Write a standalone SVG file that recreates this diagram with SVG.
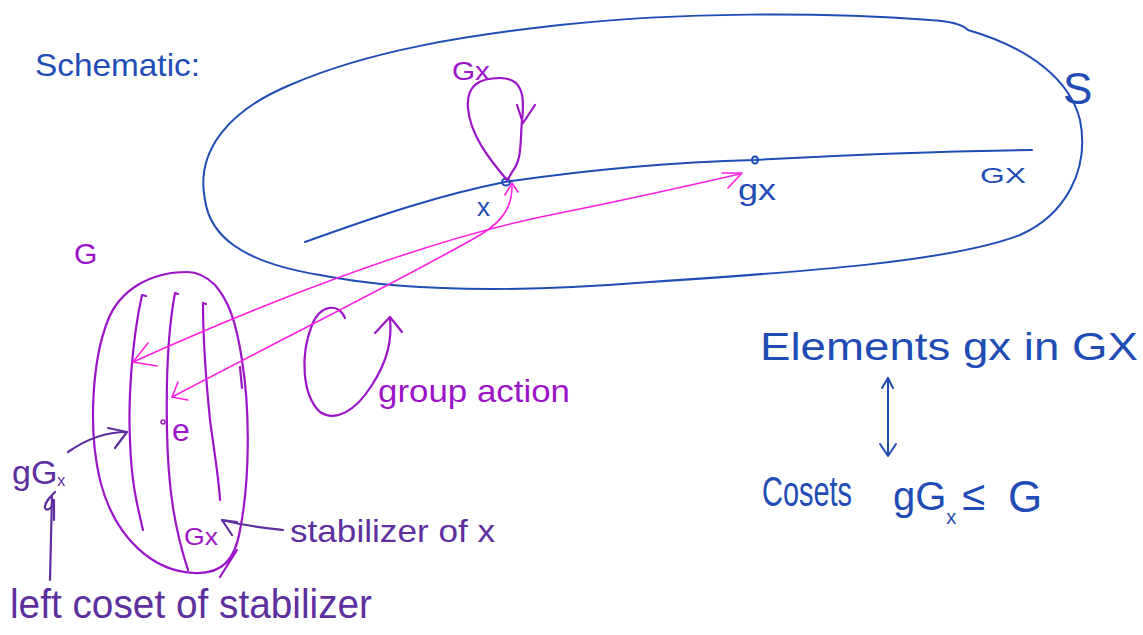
<svg xmlns="http://www.w3.org/2000/svg" width="1143" height="635" viewBox="0 0 1143 635">
<style>
.b{fill:none;stroke:#1f4db5;stroke-width:2;stroke-linecap:round;stroke-linejoin:round}
.p{fill:none;stroke:#9c14c8;stroke-width:2.2;stroke-linecap:round;stroke-linejoin:round}
.m{fill:none;stroke:#ff1fe0;stroke-width:1.6;stroke-linecap:round;stroke-linejoin:round}
.d{fill:none;stroke:#5e2f9e;stroke-width:2.2;stroke-linecap:round;stroke-linejoin:round}
text{font-family:"Liberation Sans","DejaVu Sans",sans-serif}
.tb{fill:#1f4db5}
.tp{fill:#9c14c8}
.td{fill:#5e2f9e}
</style>
<rect width="1143" height="635" fill="#ffffff"/>
<text class="tb" x="35" y="76" font-size="32" textLength="165" lengthAdjust="spacingAndGlyphs">Schematic:</text>
<g id="setS">
<path class="b" d="M205,200 C195,150 230,110 290,85 C370,50 470,35 560,25 C680,12 820,12 930,20 C950,21 962,24 968,30 C1030,48 1070,80 1080,120 C1090,170 1065,215 1020,235 C950,262 800,272 650,282 C550,290 420,295 320,275 C240,262 210,235 205,200 Z"/>
<text class="tb" x="1063" y="104" font-size="44">S</text>
</g>
<g id="orbit">
<path class="b" d="M305,242 C380,215 440,195 505,182 C600,168 680,162 755,160 C880,153 960,151 1032,150"/>
<text class="tb" x="980" y="183" font-size="22" textLength="46" lengthAdjust="spacingAndGlyphs">GX</text>
</g>
<g id="pointx">
<ellipse class="b" cx="506" cy="182" rx="4" ry="3.5" stroke-width="2.5"/>
<text class="tb" x="477" y="216" font-size="26">x</text>
</g>
<g id="pointgx">
<ellipse class="b" cx="755" cy="160" rx="3" ry="3.5" stroke-width="2.5"/>
<text class="tb" x="738" y="200" font-size="30" textLength="38" lengthAdjust="spacingAndGlyphs">gx</text>
</g>
<g id="stabloop">
<path class="p" d="M507,180 C490,160 470,135 468,108 C466,85 480,78 500,78 C522,78 525,95 522,120 C520,145 522,160 512,172 C510,176 509,178 507,180"/>
<path class="p" d="M517,105 L523,123 L535,105"/>
<text class="tp" x="452" y="80" font-size="26" textLength="38" lengthAdjust="spacingAndGlyphs">Gx</text>
</g>
<g id="groupG">
<text class="tp" x="74" y="264" font-size="30">G</text>
<path class="p" d="M187,272 C150,272 120,290 108,320 C92,360 88,430 100,480 C115,540 155,572 195,573 C222,574 235,560 240,530 C250,480 250,410 242,360 C236,320 228,300 215,285 C205,275 195,272 187,272 Z"/>
<path class="p" d="M237,550 L220,577"/>
<path class="p" d="M146,296 L142,295 C132,340 128,400 130,440 C131,480 137,505 143,530"/>
<path class="p" d="M178,294 L175,293 C168,330 166,380 167,430 C168,490 175,530 188,570"/>
<path class="p" d="M206,304 L203,303 C203,340 206,380 210,420 C214,450 219,480 220,500"/>
<path class="p" d="M240,367 L242,388"/>
<circle cx="163" cy="422" r="2" fill="none" stroke="#9c14c8" stroke-width="1.5"/>
<text class="tp" x="172" y="441" font-size="32">e</text>
<text class="tp" x="184" y="545" font-size="24" textLength="34" lengthAdjust="spacingAndGlyphs">Gx</text>
</g>
<g id="groupaction">
<path class="p" d="M345,318 C338,302 320,305 312,325 C300,355 302,395 320,412 C335,422 355,412 372,385 C388,360 392,340 390,318"/>
<path class="p" d="M375,333 L390,317 L402,332"/>
<text class="tp" x="378" y="402" font-size="32" textLength="192" lengthAdjust="spacingAndGlyphs">group action</text>
</g>
<g id="connectors">
<path class="m" d="M133,362 C260,305 420,240 560,213 C640,197 700,183 740,174"/>
<path class="m" d="M148,343 L133,362 L157,366"/>
<path class="m" d="M722,173 L742,173 L728,188"/>
<path class="m" d="M172,397 C300,330 420,270 480,235 C505,220 512,205 512,186"/>
<path class="m" d="M178,382 L172,397 L188,400"/>
<path class="m" d="M505,195 L512,183 L518,192"/>
<path class="d" d="M68,452 C85,440 105,432 127,432"/>
<path class="d" d="M108,428 L127,432 L115,448"/>
<path class="d" d="M283,530 C265,528 245,526 222,520"/>
<path class="d" d="M237,522 L222,520 L232,535"/>
<path class="d" d="M55,492 C50,497 44,503 45,508 C47,512 53,508 54,500 L54,520"/>
<path class="d" d="M52,497 L50,580"/>
<path class="b" d="M888,378 L888,455"/>
<path class="b" d="M882,388 L888,378 L893,388"/>
<path class="b" d="M880,444 L888,456 L896,444"/>
</g>
<g id="labels">
<text class="td" x="12" y="484" font-size="34">gG<tspan font-size="16" dy="2">x</tspan></text>
<text class="td" x="290" y="542" font-size="32" textLength="205" lengthAdjust="spacingAndGlyphs">stabilizer of x</text>
<text class="td" x="10" y="618" font-size="40" textLength="362" lengthAdjust="spacingAndGlyphs">left coset of stabilizer</text>
<text class="tb" x="760" y="360" font-size="38" textLength="378" lengthAdjust="spacingAndGlyphs">Elements gx in GX</text>
<text class="tb" x="762" y="506" font-size="42" textLength="90" lengthAdjust="spacingAndGlyphs">Cosets</text>
<text class="tb" x="893" y="510" font-size="40">gG<tspan font-size="20" dy="14">x</tspan></text>
<text class="tb" x="962" y="510" font-size="42">≤</text>
<text class="tb" x="1008" y="512" font-size="44">G</text>
</g>
</svg>
